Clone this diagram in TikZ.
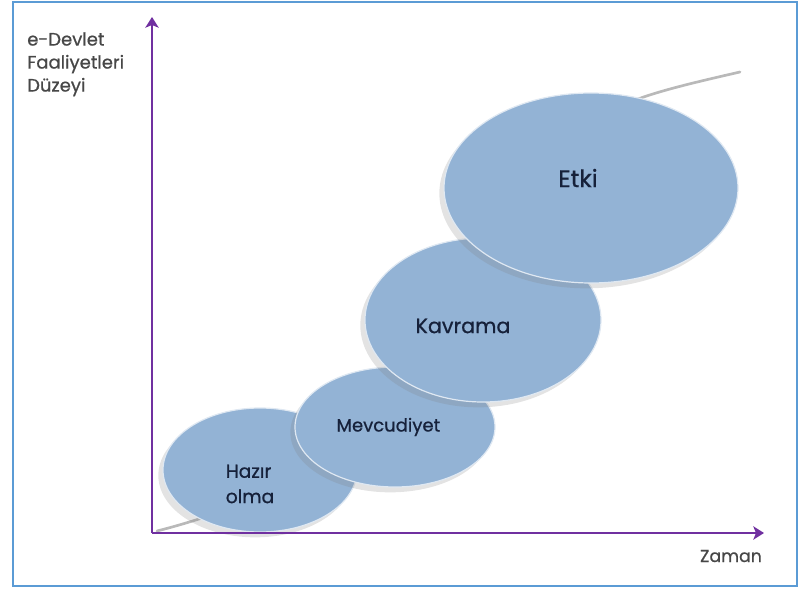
\documentclass[tikz,border=0pt]{standalone}
\usepackage{fontspec}
\setmainfont{Poppins}
\newfontfamily\stagefont{Poppins}[FakeBold=0.7]
\usepackage{tikz}
\usetikzlibrary{shapes.geometric, arrows.meta, positioning, shadows}
\definecolor{axispurple}{HTML}{7030A0}
\definecolor{stageblue}{HTML}{93B3D5}
\definecolor{frameblue}{HTML}{5B9BD5}
\definecolor{stagetext}{HTML}{16213A}
\tikzstyle{stage} = [ellipse, fill=stageblue, draw=white!70!stageblue, line width=0.9pt, inner sep=0pt, drop shadow={shadow xshift=-3.5pt, shadow yshift=-4pt, opacity=0.22}]
\tikzstyle{stagelabel} = [text=stagetext, align=left]
\tikzstyle{axis} = [line width=2.2pt, axispurple, -{Stealth[length=8pt, width=10pt, inset=2pt]}]
\tikzstyle{trend} = [line width=2pt, gray!55, line cap=round]
\tikzstyle{axislabel} = [text=black!72, inner sep=0pt, align=left]

\begin{document}
\begin{tikzpicture}[x=0.75pt, y=-0.75pt]
    \useasboundingbox (0,0) rectangle (800,592);
    \draw[frameblue, line width=2.2pt] (13,2) rectangle (797,586);

    % rising trend behind the stages
    \coordinate (tstart) at (157,531);
    \coordinate (tend) at (740,72);
    \draw[trend] (tstart) .. controls (240,510) and (330,470) .. (395,427)
        .. controls (470,377) and (520,200) .. (600,120)
        .. controls (620,100) and (670,88) .. (tend);

    \node (hazir) [stage, minimum width=145.5pt, minimum height=93pt,
        label={[stagelabel, xshift=-7.5pt, yshift=-10.5pt, font=\stagefont\fontsize{14}{19}\selectfont]center:Hazır\\olma}] at (260,470) {};
    \node (mevcut) [stage, minimum width=150pt, minimum height=90pt,
        label={[stagelabel, xshift=-5pt, font=\stagefont\fontsize{13.5}{16}\selectfont]center:Mevcudiyet}] at (395,427) {};
    \node (kavrama) [stage, minimum width=177pt, minimum height=123pt,
        label={[stagelabel, xshift=-15pt, yshift=-4.5pt, font=\stagefont\fontsize{15.5}{18}\selectfont]center:Kavrama}] at (483,320) {};
    \node (etki) [stage, minimum width=220.5pt, minimum height=142.5pt,
        label={[stagelabel, xshift=-9.75pt, yshift=7.5pt, font=\stagefont\fontsize{18}{20}\selectfont]center:Etki}] at (591,188) {};

    % axes
    \coordinate (origin) at (152,533);
    \coordinate (ytop) at (152,17);
    \coordinate (xend) at (764,533);
    \draw[axis] (origin) -- (ytop);
    \draw[axis] (origin) -- (xend);

    \node (ylabel) [axislabel, anchor=north west, font=\stagefont\fontsize{13.5}{17.25}\selectfont] at (27,32) {e-Devlet\\Faaliyetleri\\Düzeyi};
    \node (xlabel) [axislabel, anchor=base, font=\stagefont\fontsize{13}{15}\selectfont] at (731,562) {Zaman};
\end{tikzpicture}
\end{document}
